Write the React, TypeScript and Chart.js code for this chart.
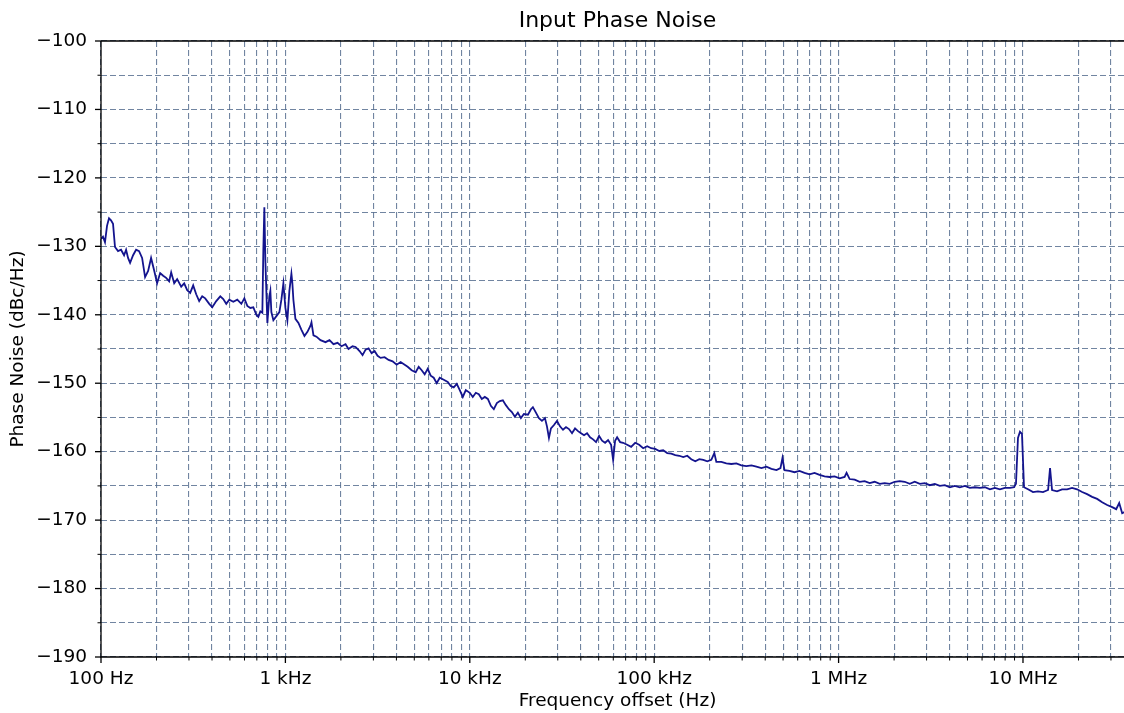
import React, { useEffect, useRef } from 'react';
import { Chart, registerables } from 'chart.js';

Chart.register(...registerables);

// ---- Data ----
const freqHz: number[] = [
  100, 102.5, 105.1, 107.8, 110.5, 113.3, 116.2, 119.1, 123.7, 128.4, 133.4, 136.8, 140.2, 143.8, 149.3, 155, 160.9, 167.1, 173.4, 180.1,
  186.9, 194.1, 201.5, 209.3, 217.3, 225.6, 234.2, 240.2, 249.4, 258.8, 272.2, 282.6, 293.4, 304.6, 316.2, 328.3, 340.8, 353.9, 367.4, 386.4,
  401.1, 421.7, 443.5, 460.3, 477.9, 496.3, 521.8, 548.4, 576.8, 598.8, 621.6, 645.3, 670, 695.6, 713.3, 731.3, 749.9, 759.3, 768.9, 778.6,
  798.4, 818.5, 828.8, 839.3, 860.6, 893.6, 927.7, 951.2, 975.2, 1000, 1025, 1051, 1078, 1091, 1105, 1133, 1177, 1222, 1269, 1317,
  1368, 1385, 1420, 1474, 1550, 1650, 1734, 1823, 1917, 2015, 2119, 2199, 2313, 2402, 2525, 2621, 2722, 2826, 2934, 3046,
  3162, 3283, 3451, 3628, 3814, 4011, 4217, 4435, 4603, 4839, 5088, 5283, 5484, 5693, 5910, 6138, 6372, 6617, 6871, 7224,
  7593, 7884, 8185, 8499, 8824, 9163, 9513, 10000, 10380, 10780, 11190, 11620, 12060, 12530, 13010, 13500, 14020, 14550, 15110, 15690,
  16290, 16910, 17560, 18230, 18930, 19650, 20670, 21460, 21990, 22840, 23710, 24620, 25560, 26210, 26870, 27550, 28610, 29700, 30840, 32020,
  33250, 34510, 35840, 37220, 38640, 40110, 41650, 43240, 44900, 46620, 48390, 50250, 52170, 54170, 56230, 58390, 59880, 61380, 62930, 65340,
  67840, 71330, 74990, 78840, 82880, 87140, 91630, 96320, 101300, 106500, 111900, 117700, 123700, 130100, 136800, 143800, 151100, 158900, 167100, 175600,
  184600, 194100, 204100, 211900, 217300, 231300, 246200, 262100, 279000, 297000, 316200, 336700, 358400, 381500, 406200, 432400, 460300, 483900, 496300, 508800,
  541600, 576800, 613800, 653400, 695600, 740600, 788300, 839300, 893500, 951200, 1013000, 1078000, 1105000, 1148000, 1222000, 1301000, 1384000, 1474000, 1569000, 1671000,
  1778000, 1893000, 2015000, 2146000, 2284000, 2432000, 2588000, 2756000, 2934000, 3123000, 3325000, 3540000, 3768000, 4011000, 4270000, 4546000, 4839000, 5152000, 5484000, 5839000,
  6216000, 6617000, 7045000, 7499000, 7983000, 8499000, 8935000, 9163000, 9394000, 9632000, 9875000, 10130000, 10650000, 11330000, 12060000, 12840000, 13680000, 14020000, 14380000, 15300000,
  16290000, 17340000, 18460000, 19650000, 20930000, 22270000, 23710000, 25250000, 26870000, 28610000, 30460000, 32020000, 33250000, 34510000, 36290000, 38640000, 40000000,
];

const phaseNoise: number[] = [
  -128.9, -128.6, -129.4, -127.0, -125.9, -126.2, -126.7, -130.1, -130.7, -130.5, -131.3, -130.5, -131.7, -132.4, -131.3, -130.5, -130.7, -131.7, -134.5, -133.6,
  -131.7, -133.5, -135.4, -133.9, -134.3, -134.6, -135.1, -133.8, -135.4, -134.8, -135.9, -135.4, -136.4, -136.8, -135.7, -137.0, -138.0, -137.3, -137.6, -138.4,
  -138.9, -138.0, -137.3, -137.7, -138.4, -137.8, -138.1, -137.8, -138.4, -137.6, -138.7, -139.0, -138.9, -140.0, -140.3, -139.5, -139.7, -130.5, -124.3, -132.0,
  -141.2, -137.3, -136.5, -139.6, -140.8, -140.2, -139.6, -137.8, -135.4, -139.0, -140.8, -136.5, -134.0, -135.4, -137.8, -140.6, -141.2, -142.2, -143.1, -142.5,
  -141.6, -141.1, -143.0, -143.2, -143.7, -144.0, -143.7, -144.3, -144.1, -144.6, -144.3, -145.0, -144.6, -144.7, -145.3, -145.9, -145.1, -144.9, -145.6, -145.3,
  -146.0, -146.3, -146.2, -146.6, -146.8, -147.3, -146.9, -147.3, -147.6, -148.1, -148.4, -147.6, -148.1, -148.7, -147.9, -148.9, -149.2, -150.0, -149.2, -149.5,
  -149.8, -150.4, -150.6, -150.1, -151.0, -152.0, -151.0, -151.4, -152.0, -151.4, -151.6, -152.3, -152.0, -152.3, -153.3, -153.8, -152.9, -152.6, -152.5, -153.2,
  -153.8, -154.2, -154.9, -154.3, -155.1, -154.5, -154.6, -153.8, -153.5, -154.3, -155.1, -155.5, -155.1, -156.3, -158.0, -156.6, -156.1, -155.5, -156.3, -156.8,
  -156.4, -156.7, -157.3, -156.6, -157.0, -157.3, -157.6, -157.3, -157.9, -158.2, -158.6, -157.7, -158.4, -158.7, -158.3, -159.0, -161.2, -158.4, -157.9, -158.6,
  -158.7, -159.0, -159.3, -158.7, -159.0, -159.5, -159.2, -159.5, -159.6, -159.9, -159.8, -160.2, -160.3, -160.5, -160.6, -160.8, -160.6, -161.1, -161.4, -161.1,
  -161.2, -161.4, -161.2, -160.2, -161.5, -161.5, -161.7, -161.8, -161.7, -162.0, -162.1, -162.0, -162.2, -162.4, -162.2, -162.5, -162.7, -162.4, -160.9, -162.7,
  -162.8, -163.0, -162.8, -163.1, -163.3, -163.1, -163.4, -163.6, -163.7, -163.6, -163.9, -163.7, -163.1, -164.0, -164.1, -164.4, -164.3, -164.6, -164.4, -164.7,
  -164.6, -164.7, -164.4, -164.3, -164.4, -164.7, -164.4, -164.7, -164.6, -164.9, -164.7, -165.0, -164.9, -165.2, -165.0, -165.2, -165.0, -165.3, -165.2, -165.3,
  -165.2, -165.5, -165.3, -165.5, -165.3, -165.3, -165.2, -164.7, -158.0, -157.1, -157.4, -165.2, -165.5, -165.9, -165.8, -165.9, -165.6, -162.4, -165.6, -165.8,
  -165.5, -165.5, -165.3, -165.5, -165.9, -166.2, -166.6, -166.9, -167.4, -167.8, -168.1, -168.4, -167.5, -169.0, -168.7, -168.6, -168.4,
];

const xMin = 100;
const xMax = 40000000;
const xMajorValues = [100, 1000, 10000, 100000, 1000000, 10000000];
const xMajorLabels = ['100 Hz', '1 kHz', '10 kHz', '100 kHz', '1 MHz', '10 MHz'];
const yMin = -190;
const yMax = -100;
const yStep = 5;

const titleText = 'Input Phase Noise';
const xTitle = 'Frequency offset (Hz)';
const yTitle = 'Phase Noise (dBc/Hz)';

// all grid positions of the log axis (1..9 x each decade)
const xGridValues: number[] = [];
for (let dec = 100; dec <= xMax; dec *= 10) {
  for (let k = 1; k <= 9; k++) {
    const v = k * dec;
    if (v <= xMax) xGridValues.push(v);
  }
}

const FONT = "'DejaVu Sans', sans-serif";
const GRID_COLOR = 'rgba(88, 112, 145, 0.85)';

const axesDecor = {
  id: 'axesDecor',
  afterDraw(chart: any) {
    const { ctx, chartArea } = chart;
    const { left, right, top, bottom } = chartArea;
    const xs = chart.scales.x;
    const ys = chart.scales.y;
    ctx.save();
    ctx.strokeStyle = '#000';
    ctx.setLineDash([]);
    // x ticks
    for (const v of xGridValues) {
      const major = xMajorValues.includes(v);
      const px = xs.getPixelForValue(v);
      ctx.lineWidth = major ? 1.3 : 1;
      ctx.beginPath();
      ctx.moveTo(px, bottom);
      ctx.lineTo(px, bottom + (major ? 6 : 3.5));
      ctx.stroke();
    }
    // y ticks
    for (let v = yMin; v <= yMax; v += yStep) {
      const major = v % 10 === 0;
      const py = ys.getPixelForValue(v);
      ctx.lineWidth = major ? 1.3 : 1;
      ctx.beginPath();
      ctx.moveTo(left, py);
      ctx.lineTo(left - (major ? 6 : 3.5), py);
      ctx.stroke();
    }
    // spines
    ctx.lineWidth = 1.3;
    ctx.beginPath();
    ctx.moveTo(left, top);
    ctx.lineTo(right, top);
    ctx.moveTo(left, top);
    ctx.lineTo(left, bottom);
    ctx.lineTo(right, bottom);
    ctx.lineTo(right, top);
    ctx.stroke();
    // title, centred over the axes
    ctx.fillStyle = '#000';
    ctx.font = `22px ${FONT}`;
    ctx.textAlign = 'center';
    ctx.textBaseline = 'middle';
    ctx.fillText(titleText, (left + right) / 2, 21);
    ctx.restore();
  },
};

export default function App() {
  const canvasRef = useRef<HTMLCanvasElement | null>(null);

  useEffect(() => {
    const canvas = canvasRef.current;
    if (!canvas) return;
    const n = Math.min(freqHz.length, phaseNoise.length);
    const points = [];
    for (let i = 0; i < n; i++) points.push({ x: freqHz[i], y: phaseNoise[i] });

    const chart = new Chart(canvas, {
      type: 'line',
      data: {
        datasets: [
          {
            data: points,
            borderColor: '#14148e',
            borderWidth: 1.8,
            pointRadius: 0,
            tension: 0,
            fill: false,
          },
        ],
      },
      options: {
        responsive: false,
        animation: false,
        devicePixelRatio: 1,
        layout: { padding: { left: 0, right: 0, top: 41, bottom: 0 } },
        plugins: {
          legend: { display: false },
          tooltip: { enabled: false },
          title: { display: false },
        },
        scales: {
          x: {
            type: 'logarithmic',
            min: xMin,
            max: xMax,
            afterBuildTicks: (scale: any) => {
              scale.ticks = xGridValues.map((v) => ({ value: v, major: xMajorValues.includes(v) }));
            },
            afterFit: (scale: any) => {
              scale.height = 56;
            },
            ticks: {
              autoSkip: false,
              maxRotation: 0,
              minRotation: 0,
              padding: 11,
              color: '#000',
              font: { family: FONT, size: 18.5 },
              callback: (value: any) => {
                const idx = xMajorValues.indexOf(Number(value));
                return idx >= 0 ? xMajorLabels[idx] : '';
              },
            },
            grid: { color: GRID_COLOR, lineWidth: 1.1, drawTicks: false },
            border: { display: false, dash: [6, 3] },
            title: {
              display: true,
              text: xTitle,
              color: '#000',
              font: { family: FONT, size: 18.5, lineHeight: 1.2 },
              padding: { top: 0, bottom: 1 },
            },
          },
          y: {
            type: 'linear',
            min: yMin,
            max: yMax,
            afterFit: (scale: any) => {
              scale.width = 101;
            },
            ticks: {
              stepSize: yStep,
              autoSkip: false,
              padding: 14,
              color: '#000',
              font: { family: FONT, size: 18.5 },
              callback: (value: any) => {
                const v = Number(value);
                if (v % 10 !== 0) return '';
                return v < 0 ? '\u2212' + Math.abs(v) : String(v);
              },
            },
            grid: { color: GRID_COLOR, lineWidth: 1.1, drawTicks: false },
            border: { display: false, dash: [6, 3] },
            title: {
              display: true,
              text: yTitle,
              color: '#000',
              font: { family: FONT, size: 18.5, lineHeight: 1.2 },
              padding: { top: 7, bottom: 0 },
            },
          },
        },
      },
      plugins: [axesDecor],
    } as any);

    return () => chart.destroy();
  }, []);

  return (
    <div
      style={{
        position: 'absolute',
        left: 0,
        top: 0,
        width: 1124,
        height: 713,
        overflow: 'hidden',
        background: '#fff',
      }}
    >
      <canvas ref={canvasRef} width={1145} height={713} style={{ display: 'block' }} />
    </div>
  );
}
